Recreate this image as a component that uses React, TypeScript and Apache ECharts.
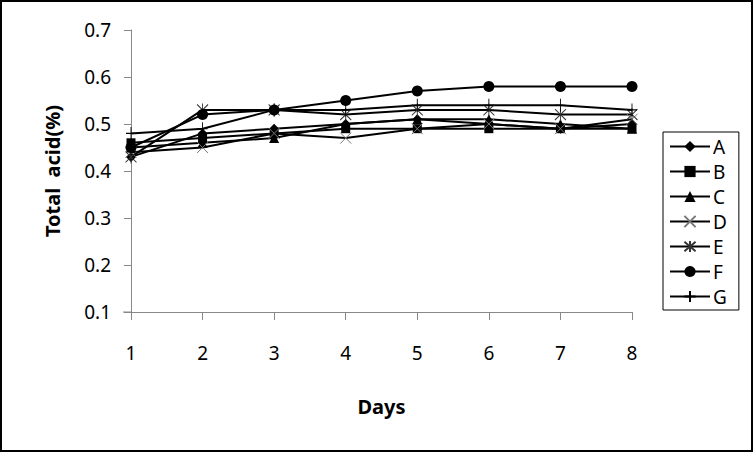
import React, { useEffect, useRef } from "react";
import * as echarts from "echarts";

const days = [1, 2, 3, 4, 5, 6, 7, 8];
const seriesNames = ["A", "B", "C", "D", "E", "F", "G"];
const valuesA = [0.43, 0.48, 0.49, 0.5, 0.51, 0.5, 0.49, 0.5];
const valuesB = [0.46, 0.47, 0.48, 0.49, 0.49, 0.49, 0.49, 0.49];
const valuesC = [0.45, 0.46, 0.47, 0.5, 0.51, 0.51, 0.5, 0.49];
const valuesD = [0.44, 0.45, 0.48, 0.47, 0.49, 0.5, 0.49, 0.51];
const valuesE = [0.43, 0.53, 0.53, 0.52, 0.53, 0.53, 0.52, 0.52];
const valuesF = [0.45, 0.52, 0.53, 0.55, 0.57, 0.58, 0.58, 0.58];
const valuesG = [0.48, 0.49, 0.53, 0.53, 0.54, 0.54, 0.54, 0.53];
const yTicks = [0.1, 0.2, 0.3, 0.4, 0.5, 0.6, 0.7];

const allValues = [valuesA, valuesB, valuesC, valuesD, valuesE, valuesF, valuesG];

const FONT = "'Noto Sans', 'DejaVu Sans', sans-serif";

const symbols: any[] = [
  { symbol: "diamond", size: 10, style: { color: "#000" } },
  { symbol: "rect", size: 9, style: { color: "#000" } },
  { symbol: "triangle", size: 10, style: { color: "#000" } },
  {
    symbol: "path://M0,0L10,10M10,0L0,10",
    size: 11,
    style: { color: "transparent", borderColor: "#777", borderWidth: 1 },
  },
  {
    symbol: "path://M0,1L10,11M10,1L0,11M5,0L5,12",
    size: [11, 13],
    style: { color: "transparent", borderColor: "#333", borderWidth: 1 },
  },
  { symbol: "circle", size: 11, style: { color: "#000" } },
  {
    symbol: "path://M5,0L5,12M0,6L10,6",
    size: [10, 13],
    style: { color: "transparent", borderColor: "#000", borderWidth: 1 },
  },
];

export default function App() {
  const ref = useRef<HTMLDivElement>(null);
  useEffect(() => {
    if (!ref.current) return;
    const chart = echarts.init(ref.current, undefined, { renderer: "svg" });
    const series = seriesNames.map((name, i) => ({
      name,
      type: "line",
      data: days.map((d, j) => [d, allValues[i][j]]),
      symbol: symbols[i].symbol,
      symbolSize: symbols[i].size,
      showAllSymbol: true,
      itemStyle: symbols[i].style,
      lineStyle: { color: "#000", width: 2 },
      emphasis: { disabled: true },
    }));
    chart.setOption({
      animation: false,
      backgroundColor: "#fff",
      grid: { left: 131, right: 122, top: 30, bottom: 141, containLabel: false },
      xAxis: {
        type: "value",
        min: 1,
        max: 8,
        interval: 1,
        name: "Days",
        nameLocation: "middle",
        nameGap: 84,
        nameTextStyle: { fontFamily: FONT, fontSize: 20, fontWeight: "bold", color: "#000" },
        axisLine: { show: true, lineStyle: { color: "#888", width: 1 } },
        axisTick: { show: true, length: 8, lineStyle: { color: "#888" } },
        axisLabel: { fontFamily: FONT, fontSize: 19, color: "#000", margin: 31 },
        splitLine: { show: false },
      },
      yAxis: {
        type: "value",
        min: 0.1,
        max: 0.7,
        interval: 0.1,
        name: "Total  acid(%)",
        nameLocation: "middle",
        nameGap: 69,
        nameRotate: 90,
        nameTextStyle: { fontFamily: FONT, fontSize: 20, fontWeight: "bold", color: "#000" },
        axisLine: { show: true, lineStyle: { color: "#888", width: 1 } },
        axisTick: { show: true, length: 7, lineStyle: { color: "#888" } },
        axisLabel: {
          fontFamily: FONT,
          fontSize: 19,
          color: "#000",
          margin: 20,
          formatter: (v: number) => {
            const t = yTicks.find((x) => Math.abs(x - v) < 1e-6);
            return t !== undefined ? t.toFixed(1) : "";
          },
        },
        splitLine: { show: false },
      },
      legend: {
        orient: "vertical",
        left: 663,
        top: 132,
        padding: [5, 12, 4, 6],
        itemWidth: 40,
        itemHeight: 14,
        itemGap: 6,
        borderColor: "#000",
        borderWidth: 1,
        textStyle: { fontFamily: FONT, fontSize: 19, color: "#000", padding: [0, 0, 0, -2] },
        data: seriesNames,
      },
      graphic: [
        {
          type: "rect",
          shape: { x: 1, y: 1, width: 751, height: 450 },
          style: { fill: "none", stroke: "#000", lineWidth: 2 },
          silent: true,
        },
        {
          type: "line",
          shape: { x1: 123, y1: 312, x2: 131, y2: 312 },
          style: { stroke: "#888", lineWidth: 1 },
          silent: true,
        },
      ],
      series,
    });
    return () => chart.dispose();
  }, []);
  return (
    <div
      ref={ref}
      style={{ position: "fixed", left: 0, top: 0, width: 754, height: 453 }}
    />
  );
}
